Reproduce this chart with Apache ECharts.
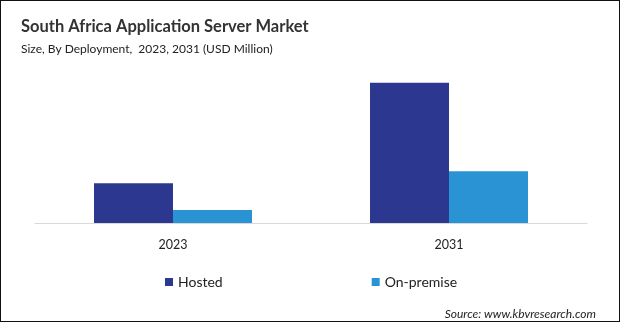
<!DOCTYPE html>
<html>
<head>
<meta charset="utf-8">
<script src="https://cdn.jsdelivr.net/npm/echarts@6/dist/echarts.min.js"></script>
<style>
    html,body{margin:0;padding:0;background:#fff;}
    #chart{width:620px;height:322px;box-sizing:border-box;border:1px solid #111;}
</style>
</head>
<body>
<div id="chart"></div>
<script>
// deployment market size, USD Million
let years = ['2023', '2031'];
let hosted = [40, 141];
let onPremise = [13, 52];

let chart = echarts.init(document.getElementById('chart'));
let font = 'Lato, "Open Sans", sans-serif';
let option = {
    animation: false,
    title: [{
        text: 'South Africa Application Server Market',
        left: 15,
        top: 12,
        textStyle: {fontFamily: font, fontSize: 16.5, fontWeight: 'bold', color: '#333'}
    }, {
        text: 'Size, By Deployment,  2023, 2031 (USD Million)',
        left: 15,
        top: 37,
        textStyle: {fontFamily: font, fontSize: 12, fontWeight: 'normal', color: '#222'}
    }, {
        text: 'Source: www.kbvresearch.com',
        right: 18,
        top: 302,
        textStyle: {fontFamily: font, fontSize: 12, fontStyle: 'italic', fontWeight: 'normal', color: '#222'}
    }],
    legend: {
        left: 159,
        top: 269,
        icon: 'rect',
        itemWidth: 8,
        itemHeight: 8,
        itemGap: 149,
        textStyle: {fontFamily: font, fontSize: 14, color: '#222'},
        data: ['Hosted', 'On-premise']
    },
    grid: {left: 34, right: 32, top: 53, bottom: 98},
    xAxis: {
        type: 'category',
        data: years,
        axisLine: {lineStyle: {color: '#d9d9d9', width: 1}},
        axisTick: {show: false},
        axisLabel: {fontFamily: font, fontSize: 12.5, color: '#222', margin: 15}
    },
    yAxis: {
        type: 'value',
        min: 0,
        max: 170,
        show: false,
        splitLine: {show: false}
    },
    series: [{
        name: 'Hosted',
        type: 'bar',
        data: hosted,
        barWidth: 79,
        barGap: '0%',
        itemStyle: {color: '#2c388f'}
    }, {
        name: 'On-premise',
        type: 'bar',
        data: onPremise,
        barWidth: 79,
        itemStyle: {color: '#2a93d3'}
    }]
};
chart.setOption(option);
</script>
</body>
</html>
